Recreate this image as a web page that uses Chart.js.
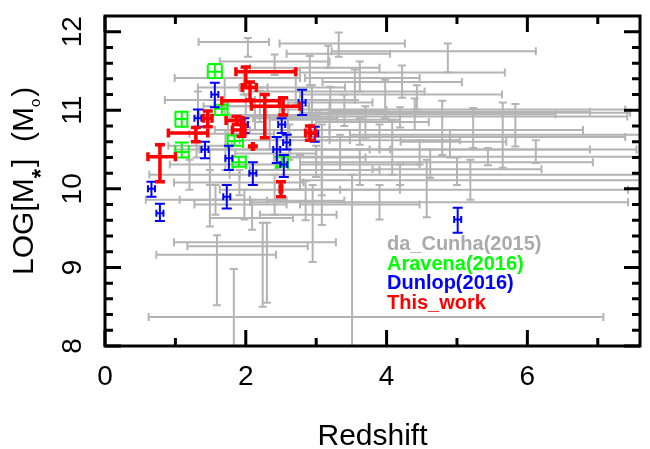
<!DOCTYPE html>
<html>
<head>
<meta charset="utf-8">
<script src="https://cdn.jsdelivr.net/npm/chart.js@4"></script>
<style>
  body { margin: 0; background: #fff; }
  #wrap { width: 650px; height: 449px; }
</style>
</head>
<body>
<div id="wrap"><canvas id="c" width="650" height="449"></canvas></div>
<script>
// rows: [z, zLo, zHi, logM, logMLo, logMHi]
const daCunha = [
  [2.03, 1.33, 2.33, 11.87, 11.68, 11.92],
  [3.32, 2.48, 4.26, 11.85, 11.68, 11.99],
  [4.87, 3.22, 6.12, 11.75, 11.48, 11.85],
  [3.17, 2.58, 4.05, 11.72, 11.54, 11.82],
  [4.22, 2.77, 5.68, 11.48, 11.16, 11.57],
  [3.55, 3.09, 5.07, 11.36, 11.13, 11.52],
  [4.43, 2.77, 5.64, 11.20, 11.01, 11.32],
  [3.98, 2.06, 4.54, 11.24, 10.90, 11.39],
  [2.41, 1.63, 3.19, 11.62, 11.45, 11.71],
  [1.97, 0.99, 2.77, 11.41, 11.20, 11.54],
  [1.70, 1.32, 2.31, 11.29, 10.94, 11.41],
  [2.91, 2.06, 3.90, 11.54, 11.32, 11.69],
  [3.62, 2.84, 4.47, 11.41, 11.24, 11.62],
  [2.71, 1.91, 3.41, 11.29, 11.07, 11.52],
  [5.83, 2.77, 7.46, 10.97, 10.54, 11.08],
  [5.23, 3.19, 6.89, 10.98, 10.52, 11.03],
  [4.79, 2.48, 7.39, 11.01, 10.43, 11.12],
  [4.19, 1.77, 7.42, 10.92, 10.78, 11.04],
  [3.62, 2.06, 6.79, 10.75, 10.56, 10.90],
  [3.90, 2.34, 7.39, 10.66, 10.50, 10.82],
  [6.12, 3.90, 6.89, 10.50, 10.33, 10.62],
  [5.44, 2.62, 7.90, 10.41, 10.30, 10.52],
  [4.62, 2.77, 6.93, 10.34, 10.14, 10.50],
  [4.19, 1.77, 7.60, 10.18, 10.05, 10.31],
  [4.47, 1.34, 7.55, 10.50, 10.31, 10.62],
  [4.57, 2.48, 7.43, 9.99, 9.64, 10.37],
  [3.34, 2.62, 4.05, 10.50, 10.24, 10.69],
  [3.62, 2.77, 4.47, 10.31, 10.05, 10.50],
  [3.08, 2.48, 3.76, 10.50, 9.92, 10.82],
  [4.08, 3.19, 5.04, 10.62, 10.18, 10.88],
  [2.94, 2.13, 3.55, 11.13, 10.82, 11.32],
  [3.19, 2.34, 4.19, 10.88, 10.62, 11.13],
  [1.71, 0.99, 2.62, 10.50, 10.24, 10.75],
  [1.49, 0.92, 2.48, 10.31, 10.05, 10.50],
  [1.91, 0.98, 2.82, 10.08, 9.92, 10.24],
  [1.57, 0.58, 2.58, 9.86, 9.67, 10.05],
  [1.98, 1.27, 2.58, 9.80, 9.61, 9.99],
  [2.09, 1.49, 2.67, 9.63, 9.48, 9.86],
  [1.49, 1.06, 2.06, 9.86, 9.52, 10.24],
  [1.59, 0.73, 2.43, 9.16, 8.52, 9.41],
  [2.24, 1.17, 2.88, 9.27, 8.50, 9.57],
  [1.83, 0.62, 7.08, 8.37, 7.95, 8.98],
  [2.30, 0.98, 3.28, 9.32, 8.55, 9.57],
  [3.51, 2.77, 4.47, 9.80, 7.82, 10.18],
  [3.08, 2.48, 4.19, 9.99, 9.54, 10.50],
  [2.95, 2.20, 3.29, 9.67, 9.07, 10.05],
  [5.65, 3.48, 7.60, 10.69, 10.27, 11.10],
  [5.19, 2.77, 7.75, 10.11, 9.86, 10.37],
  [1.20, 0.63, 1.91, 10.18, 9.99, 10.37],
  [1.32, 0.85, 2.06, 11.13, 10.92, 11.24],
  [2.34, 1.56, 3.19, 10.75, 10.50, 10.94],
  [2.13, 1.34, 3.05, 10.94, 10.75, 11.13],
  [2.62, 1.91, 3.48, 10.62, 10.37, 10.82],
  [2.77, 2.06, 3.90, 10.24, 9.99, 10.43],
  [2.41, 1.63, 3.34, 9.99, 9.67, 10.18],
  [3.90, 2.06, 7.43, 9.83, 9.61, 10.05],
  [2.20, 1.70, 2.90, 11.05, 10.85, 11.25],
  [2.60, 2.10, 3.30, 10.90, 10.70, 11.05],
  [3.40, 2.90, 4.00, 11.00, 10.80, 11.20],
  [3.00, 2.40, 3.70, 10.40, 10.15, 10.55],
  [2.45, 1.85, 3.00, 10.45, 10.25, 10.65],
  [3.70, 3.00, 4.60, 10.85, 10.65, 11.05],
  [4.90, 4.20, 5.70, 10.60, 10.40, 10.75],
  [4.40, 3.00, 6.40, 10.95, 10.75, 11.15],
  [5.00, 3.80, 6.20, 10.25, 10.05, 10.40],
  [3.20, 2.60, 3.80, 11.10, 10.95, 11.30],
  [2.00, 1.40, 2.60, 11.05, 10.85, 11.20],
  [1.75, 1.20, 2.40, 10.70, 10.50, 10.90],
  [2.85, 2.30, 3.40, 9.85, 9.60, 10.10],
  [1.30, 0.90, 1.80, 10.55, 10.40, 10.70]
];

const aravena = [
  [1.56, 1.46, 1.66, 11.49, 11.41, 11.59],
  [1.09, 1.00, 1.17, 10.89, 10.79, 10.98],
  [1.09, 1.00, 1.19, 10.47, 10.40, 10.59],
  [1.66, 1.56, 1.74, 11.02, 10.94, 11.07],
  [1.84, 1.74, 1.96, 10.61, 10.55, 10.68],
  [1.90, 1.81, 2.00, 10.34, 10.28, 10.41],
  [2.51, 2.44, 2.60, 10.34, 10.28, 10.41]
];

const dunlop = [
  [0.66, 0.61, 0.71, 10.00, 9.90, 10.09],
  [0.78, 0.73, 0.83, 9.69, 9.59, 9.81],
  [1.56, 1.51, 1.61, 11.20, 11.04, 11.35],
  [1.32, 1.27, 1.37, 10.90, 10.79, 11.01],
  [1.42, 1.37, 1.47, 10.50, 10.39, 10.60],
  [1.76, 1.71, 1.81, 10.39, 10.24, 10.55],
  [1.73, 1.68, 1.78, 9.90, 9.75, 10.05],
  [2.10, 2.05, 2.15, 10.20, 10.05, 10.34],
  [1.98, 1.93, 2.03, 10.82, 10.71, 10.90],
  [2.44, 2.39, 2.49, 10.50, 10.33, 10.66],
  [2.54, 2.49, 2.59, 10.31, 10.15, 10.43],
  [2.51, 2.46, 2.56, 10.82, 10.71, 10.90],
  [2.58, 2.53, 2.63, 10.59, 10.50, 10.69],
  [2.80, 2.75, 2.85, 11.10, 10.94, 11.26],
  [2.98, 2.93, 3.03, 10.70, 10.60, 10.79],
  [5.01, 4.96, 5.06, 9.61, 9.44, 9.76]
];

const thisWork = [
  [0.78, 0.61, 1.00, 10.41, 10.09, 10.56],
  [1.29, 0.90, 1.46, 10.71, 10.60, 10.78],
  [1.46, 1.40, 1.52, 10.90, 10.79, 10.99],
  [2.00, 1.86, 2.71, 11.49, 11.29, 11.55],
  [2.06, 1.95, 2.15, 11.29, 11.13, 11.36],
  [2.27, 1.66, 2.48, 11.12, 10.65, 11.20],
  [2.53, 2.08, 2.77, 11.05, 10.94, 11.16],
  [1.87, 1.72, 1.96, 10.87, 10.82, 10.92],
  [1.94, 1.81, 1.99, 10.75, 10.67, 10.82],
  [2.10, 2.095, 2.105, 10.54, 10.535, 10.545],
  [2.50, 2.49, 2.51, 10.00, 9.90, 10.09],
  [2.91, 2.85, 2.99, 10.71, 10.62, 10.80]
];

const seriesNames = ['da_Cunha(2015)', 'Aravena(2016)', 'Dunlop(2016)', 'This_work'];
const zTicks = [0, 2, 4, 6];
const zMinorTicks = [1, 3, 5, 7];
const massTicks = [8, 9, 10, 11, 12];
const massMinorTicks = [8.2, 8.4, 8.6, 8.8, 9.2, 9.4, 9.6, 9.8, 10.2, 10.4, 10.6, 10.8, 11.2, 11.4, 11.6, 11.8];

const FONT = "'Liberation Sans', Arial, sans-serif";

const toPoints = rows => rows.map(([x, xMin, xMax, y, yMin, yMax]) => ({ x, xMin, xMax, y, yMin, yMax }));

// error bars with caps, drawn through the scales
const errorBars = {
  id: 'errorBars',
  afterDatasetsDraw(chart) {
    const { ctx, chartArea: a, scales: { x, y } } = chart;
    ctx.save();
    ctx.beginPath();
    ctx.rect(a.left, a.top, a.right - a.left, a.bottom - a.top);
    ctx.clip();
    chart.data.datasets.forEach(ds => {
      const [cx, cy] = ds.caps;
      ctx.strokeStyle = ds.borderColor;
      ctx.lineWidth = ds.borderWidth;
      ds.data.forEach(p => {
        const px = x.getPixelForValue(p.x), py = y.getPixelForValue(p.y);
        const x0 = x.getPixelForValue(p.xMin), x1 = x.getPixelForValue(p.xMax);
        const y0 = y.getPixelForValue(p.yMin), y1 = y.getPixelForValue(p.yMax);
        ctx.beginPath();
        ctx.moveTo(x0, py); ctx.lineTo(x1, py);
        ctx.moveTo(x0, py - cx); ctx.lineTo(x0, py + cx);
        ctx.moveTo(x1, py - cx); ctx.lineTo(x1, py + cx);
        ctx.moveTo(px, y0); ctx.lineTo(px, y1);
        ctx.moveTo(px - cy, y0); ctx.lineTo(px + cy, y0);
        ctx.moveTo(px - cy, y1); ctx.lineTo(px + cy, y1);
        ctx.stroke();
      });
    });
    ctx.restore();
  }
};

// box, inward ticks, rotated y labels, titles and the text legend
const frame = {
  id: 'frame',
  afterDraw(chart) {
    const { ctx, chartArea: a, scales: { x, y } } = chart;
    ctx.save();
    ctx.strokeStyle = '#000';
    ctx.lineWidth = 3;
    ctx.beginPath();
    const xtick = (vals, len) => {
      vals.forEach(v => {
        const px = x.getPixelForValue(v);
        ctx.moveTo(px, a.bottom); ctx.lineTo(px, a.bottom - len);
        ctx.moveTo(px, a.top); ctx.lineTo(px, a.top + len);
      });
    };
    const ytick = (vals, len) => {
      vals.forEach(v => {
        const py = y.getPixelForValue(v);
        ctx.moveTo(a.left, py); ctx.lineTo(a.left + len, py);
        ctx.moveTo(a.right, py); ctx.lineTo(a.right - len, py);
      });
    };
    xtick(zTicks, 16); xtick(zMinorTicks, 8);
    ytick(massTicks, 16); ytick(massMinorTicks, 8);
    ctx.stroke();
    ctx.strokeRect(a.left, a.top, a.right - a.left, a.bottom - a.top);

    ctx.fillStyle = '#000';

    // y tick labels, reading upwards
    ctx.font = '28px ' + FONT;
    ctx.textAlign = 'center';
    ctx.textBaseline = 'middle';
    massTicks.forEach(v => {
      ctx.save();
      ctx.translate(73, y.getPixelForValue(v));
      ctx.rotate(-Math.PI / 2);
      ctx.fillText(String(v), 0, 0);
      ctx.restore();
    });

    // x title
    ctx.font = '30px ' + FONT;
    ctx.textBaseline = 'alphabetic';
    ctx.fillText('Redshift', (a.left + a.right) / 2, 445);

    // y title, with subscripts
    ctx.save();
    ctx.translate(33, 275);
    ctx.rotate(-Math.PI / 2);
    ctx.textAlign = 'left';
    const parts = [
      ['LOG[M', '30px ' + FONT, 0],
      ['*', 'bold 24px ' + FONT, 16],
      [']  (M', '30px ' + FONT, 0],
      ['o', '15px ' + FONT, 7],
      [')', '30px ' + FONT, 0]
    ];
    let tx = 0;
    parts.forEach(([t, f, dy]) => {
      ctx.font = f;
      ctx.fillText(t, tx, dy);
      tx += ctx.measureText(t).width + (dy ? 2 : 0);
    });
    ctx.restore();

    // legend text
    ctx.font = 'bold 20px ' + FONT;
    ctx.textAlign = 'left';
    chart.data.datasets.forEach((ds, i) => {
      ctx.fillStyle = ds.legendColor;
      ctx.fillText(seriesNames[i], 387, 250 + i * 19.5);
    });
    ctx.restore();
  }
};

new Chart(document.getElementById('c'), {
  type: 'scatter',
  data: {
    datasets: [
      { label: seriesNames[0], data: toPoints(daCunha), borderColor: '#b4b4b4', borderWidth: 2, caps: [4, 4], legendColor: '#aaaaaa' },
      { label: seriesNames[1], data: toPoints(aravena), borderColor: '#00ff00', borderWidth: 2, caps: [7, 7], legendColor: '#00ff00' },
      { label: seriesNames[2], data: toPoints(dunlop), borderColor: '#0000ff', borderWidth: 2, caps: [3.5, 5], legendColor: '#0000ff' },
      { label: seriesNames[3], data: toPoints(thisWork), borderColor: '#ff0000', borderWidth: 3.5, caps: [4.5, 5], legendColor: '#ff0000' }
    ]
  },
  options: {
    responsive: false,
    animation: false,
    layout: { padding: { top: 16, right: 10, left: 0, bottom: 0 } },
    elements: { point: { radius: 0, hoverRadius: 0 } },
    plugins: { legend: { display: false }, tooltip: { enabled: false } },
    scales: {
      x: {
        type: 'linear', min: 0, max: 7.6,
        grid: { display: false, drawTicks: false },
        border: { display: false },
        afterBuildTicks: s => { s.ticks = zTicks.map(v => ({ value: v })); },
        afterFit: s => { s.height = 103; s.paddingLeft = 0; s.paddingRight = 0; },
        ticks: { color: '#000', padding: 14, font: { family: FONT, size: 28 }, maxRotation: 0 }
      },
      y: {
        type: 'linear', min: 8, max: 12.2,
        grid: { display: false, drawTicks: false },
        border: { display: false },
        afterBuildTicks: s => { s.ticks = massTicks.map(v => ({ value: v })); },
        afterFit: s => { s.width = 105; s.paddingTop = 0; s.paddingBottom = 0; },
        ticks: { display: false }
      }
    }
  },
  plugins: [errorBars, frame]
});
</script>
</body>
</html>
